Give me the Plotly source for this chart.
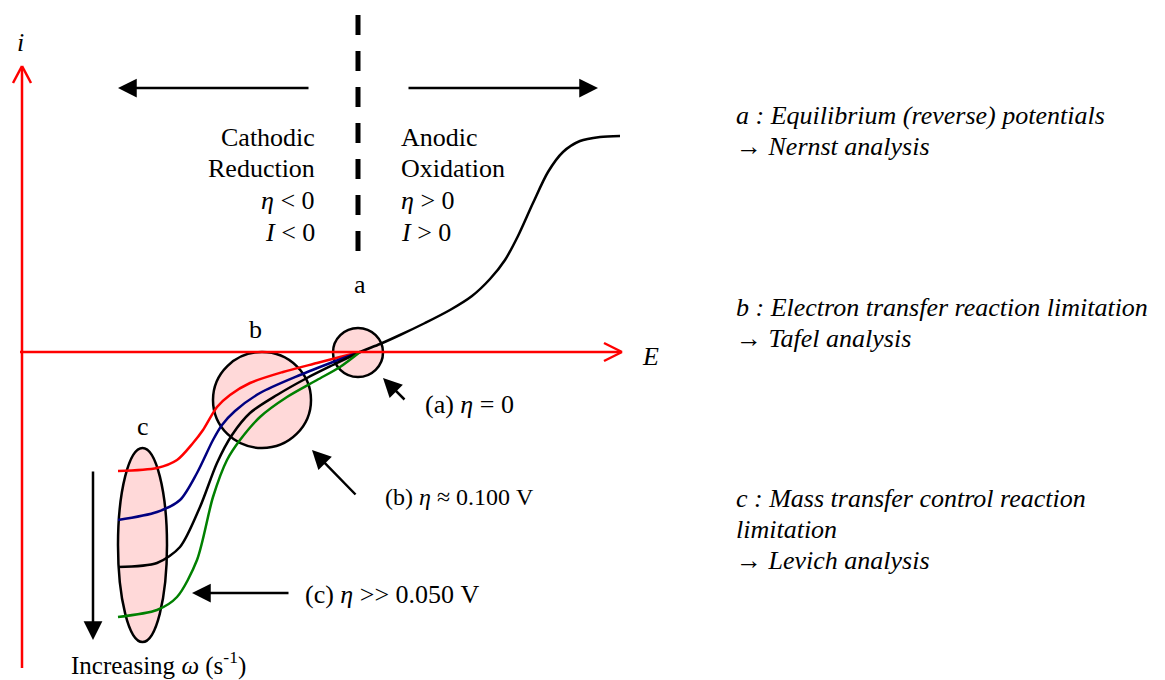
import plotly.graph_objects as go

# Polarisation curves (E position, i position) in diagram coordinates
red_E = [118, 157, 177, 193, 203, 217, 230, 250, 283, 317, 340, 360]
red_i = [471, 468, 460, 443, 430, 407, 395, 383, 372, 363, 357, 352]

blue_E = [118, 157, 180, 197, 213, 222, 235, 260, 300, 333, 360]
blue_i = [520, 512, 500, 473, 440, 425, 411, 393, 375, 362, 352]

black_E = [118, 157, 180, 200, 217, 232, 250, 277, 307, 333, 360,
           380, 400, 425, 450, 472, 490, 505, 518, 533, 548, 563, 580, 600, 620]
black_i = [567, 563, 547, 507, 463, 435, 413, 395, 378, 365, 352,
           344, 335, 323, 310, 296, 279, 260, 236, 203, 172, 152, 141, 137, 136]

green_E = [118, 157, 177, 197, 213, 227, 240, 260, 287, 317, 340, 360]
green_i = [617, 610, 597, 560, 497, 460, 440, 417, 397, 380, 367, 352]

curves = [
    (red_E, red_i, "#ff0000"),
    (blue_E, blue_i, "#000080"),
    (black_E, black_i, "#000000"),
    (green_E, green_i, "#008000"),
]

SERIF = "'Liberation Serif', 'Times New Roman', serif"
FS = 26
W, H = 1165, 680

fig = go.Figure()

# Regions of interest (a, b, c)
pink = "#ffd9d9"
fig.add_shape(type="circle", x0=333, x1=383, y0=328, y1=377, fillcolor=pink,
              line=dict(color="black", width=2.5), layer="below")
fig.add_shape(type="circle", x0=213, x1=311, y0=352, y1=448, fillcolor=pink,
              line=dict(color="black", width=2.5), layer="below")
fig.add_shape(type="circle", x0=118, x1=167, y0=448, y1=642, fillcolor=pink,
              line=dict(color="black", width=2.5), layer="below")

# Current / potential axes
red = "#ff0000"
fig.add_shape(type="line", x0=22, x1=22, y0=668, y1=67, line=dict(color=red, width=2.5))
fig.add_shape(type="line", x0=13, x1=22, y0=83, y1=66, line=dict(color=red, width=2.5))
fig.add_shape(type="line", x0=31, x1=22, y0=83, y1=66, line=dict(color=red, width=2.5))
fig.add_shape(type="line", x0=20, x1=621, y0=352, y1=352, line=dict(color=red, width=2.5))
fig.add_shape(type="line", x0=604, x1=622, y0=343, y1=352, line=dict(color=red, width=2.5))
fig.add_shape(type="line", x0=604, x1=622, y0=361, y1=352, line=dict(color=red, width=2.5))

# Equilibrium divider
fig.add_shape(type="line", x0=358, x1=358, y0=15, y1=255,
              line=dict(color="black", width=5, dash="20px,16px"))

for xs, ys, col in curves:
    fig.add_trace(go.Scatter(x=xs, y=ys, mode="lines",
                             line=dict(color=col, width=2.5, shape="spline", smoothing=0.8),
                             hoverinfo="skip", showlegend=False))

def arrow(x0, y0, x1, y1):
    fig.add_annotation(x=x1, y=y1, ax=x0, ay=y0, xref="x", yref="y", axref="x", ayref="y",
                       text="", showarrow=True, arrowhead=2, arrowsize=1.5,
                       arrowwidth=2.5, arrowcolor="black")

arrow(310, 88, 118, 88)
arrow(407, 88, 598, 88)
arrow(406, 401, 383, 378)
arrow(357, 496, 312, 450)
arrow(290, 593, 192, 593)
arrow(93, 470, 93, 640)

def txt(x, y, s, anchor="left", size=FS, italic=False):
    fig.add_annotation(x=x, y=y, xref="x", yref="y", text=s, showarrow=False,
                       xanchor=anchor, yanchor="middle", borderpad=0,
                       font=dict(family=SERIF, size=size, color="black",
                                 style="italic" if italic else "normal"))

txt(316, 137, "Cathodic", "right")
txt(316, 168, "Reduction", "right")
txt(316, 200, "<i>η</i> < 0", "right")
txt(316, 232, "<i>I</i> < 0", "right")
txt(400, 137, "Anodic")
txt(400, 168, "Oxidation")
txt(400, 200, "<i>η</i> > 0")
txt(400, 232, "<i>I</i> > 0")

txt(360, 284, "a", "center")
txt(255, 329, "b", "center")
txt(143, 426, "c", "center")

txt(20, 42, "i", "center", italic=True)
txt(650, 356, "E", "center", italic=True)

txt(424, 404, "(a) <i>η</i> = 0")
txt(384, 497, "(b) <i>η</i> ≈ 0.100 V", size=24)
txt(304, 594, "(c) <i>η</i> >> 0.050 V")
txt(158, 663, "Increasing <i>ω</i> (s<sup>-1</sup>)", "center", size=25)

txt(735, 115, "a : Equilibrium (reverse) potentials", italic=True)
txt(735, 146, "→ Nernst analysis", italic=True)
txt(735, 307, "b : Electron transfer reaction limitation", italic=True)
txt(735, 338, "→ Tafel analysis", italic=True)
txt(735, 498, "c : Mass transfer control reaction", italic=True)
txt(735, 529, "limitation", italic=True)
txt(735, 560, "→ Levich analysis", italic=True)

fig.update_layout(
    width=W, height=H,
    margin=dict(l=0, r=0, t=0, b=0),
    paper_bgcolor="white", plot_bgcolor="white",
    xaxis=dict(range=[0, W], visible=False, fixedrange=True),
    yaxis=dict(range=[H, 0], visible=False, fixedrange=True),
)

fig.write_html("out.html", config={"displayModeBar": False})
